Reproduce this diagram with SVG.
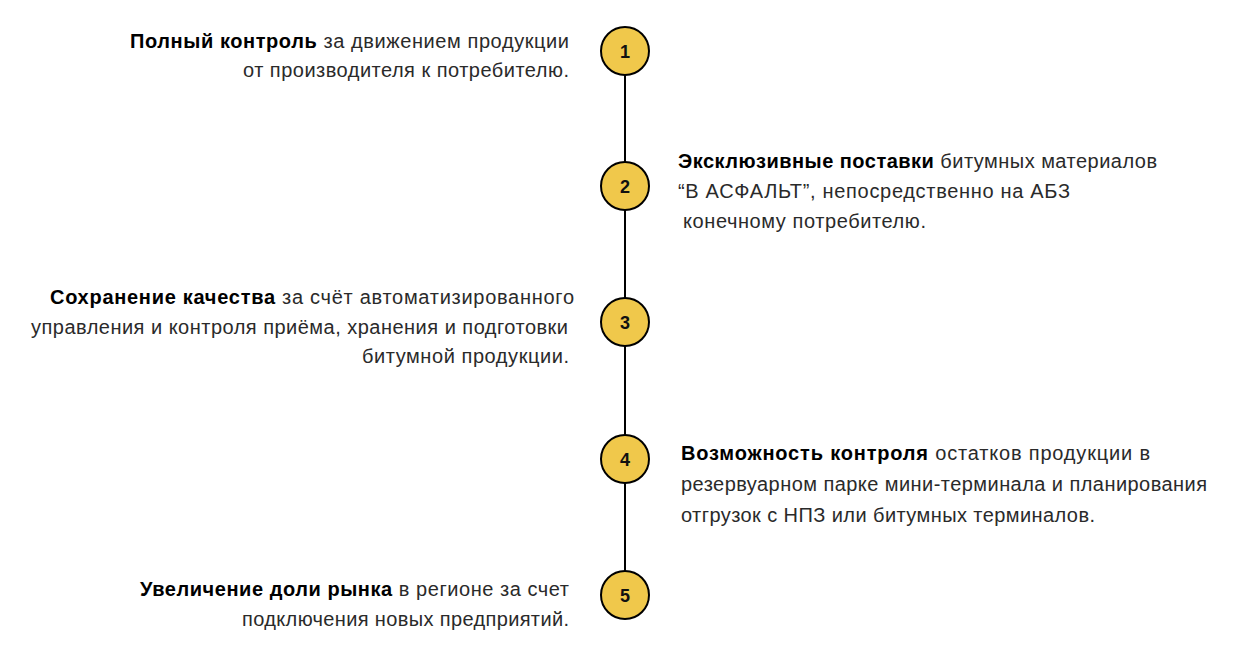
<svg xmlns="http://www.w3.org/2000/svg" width="1250" height="665" viewBox="0 0 1250 665">
<style>
text{font-family:"Liberation Sans","DejaVu Sans",sans-serif;font-size:20px;fill:#2a2a2a;}
.b{font-weight:bold;fill:#000;}
.c{fill:#f0c84b;stroke:#000;stroke-width:2;}
.n{text-anchor:middle;font-size:18px;font-weight:bold;fill:#111;}
.line{stroke:#000;stroke-width:2;fill:none;}
</style>
<rect width="1250" height="665" fill="#fff"/>
<g id="connectors">
<line class="line" x1="625" y1="75" x2="625" y2="571"/>
</g>
<g id="node1">
<circle class="c" cx="625" cy="51" r="24"/>
<text class="n" x="625" y="58">1</text>
<text x="130" y="48" textLength="439"><tspan class="b">Полный контроль</tspan> за движением продукции</text>
<text x="243" y="77" textLength="326">от производителя к потребителю.</text>
</g>
<g id="node2">
<circle class="c" cx="625" cy="186" r="24"/>
<text class="n" x="625" y="193">2</text>
<text x="678" y="168" textLength="479"><tspan class="b">Эксклюзивные поставки</tspan> битумных материалов</text>
<text x="678" y="198" textLength="392">“В АСФАЛЬТ”, непосредственно на АБЗ</text>
<text x="683" y="228" textLength="243">конечному потребителю.</text>
</g>
<g id="node3">
<circle class="c" cx="625" cy="322" r="24"/>
<text class="n" x="625" y="329">3</text>
<text x="50" y="304" textLength="524"><tspan class="b">Сохранение качества</tspan> за счёт автоматизированного</text>
<text x="31" y="334" textLength="537">управления и контроля приёма, хранения и подготовки</text>
<text x="362" y="363" textLength="207">битумной продукции.</text>
</g>
<g id="node4">
<circle class="c" cx="625" cy="459" r="24"/>
<text class="n" x="625" y="466">4</text>
<text x="681" y="460" textLength="469"><tspan class="b">Возможность контроля</tspan> остатков продукции в</text>
<text x="681" y="491" textLength="526">резервуарном парке мини-терминала и планирования</text>
<text x="681" y="522" textLength="414">отгрузок с НПЗ или битумных терминалов.</text>
</g>
<g id="node5">
<circle class="c" cx="625" cy="595" r="24"/>
<text class="n" x="625" y="602">5</text>
<text x="140" y="596" textLength="429"><tspan class="b">Увеличение доли рынка</tspan> в регионе за счет</text>
<text x="242" y="626" textLength="327">подключения новых предприятий.</text>
</g>
</svg>
